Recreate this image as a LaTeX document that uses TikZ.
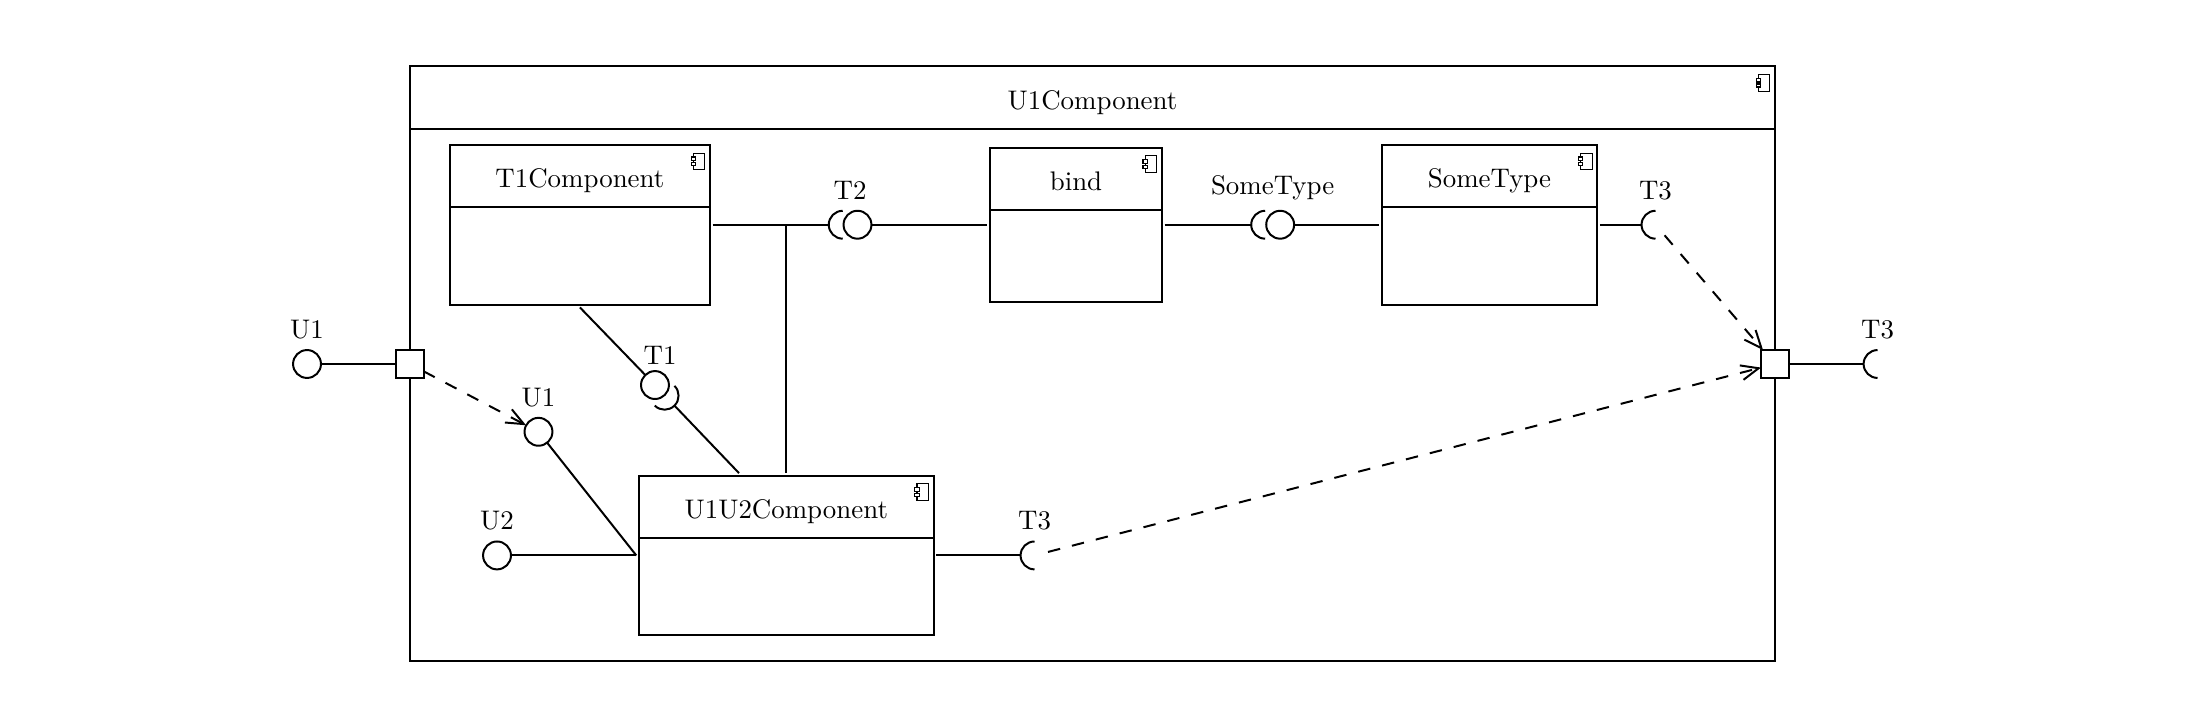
\documentclass[tikz,border=0pt]{standalone}
\usepackage{tikz}
\usetikzlibrary{arrows.meta}
\usetikzlibrary{calc}

\tikzset{
    compbox/.style={draw, rectangle, outer sep=1pt, inner sep=0pt},
    comptitle/.style={anchor=base, inner sep=0pt},
    ball/.style={draw, circle, minimum size=0.37cm, inner sep=0pt, outer sep=0pt},
    sock/.style={circle, minimum size=0.37cm, inner sep=0pt, outer sep=0pt},
    portbox/.style={draw, rectangle, fill=white, minimum size=0.37cm, inner sep=0pt, outer sep=0pt},
    iflabel/.style={inner sep=0pt},
    dep/.style={dash pattern=on 4.7pt off 4.6pt, -{Straight Barb[length=6.6pt,width=5.6pt]}},
    compicon/.pic={
        \draw[line width=0.4pt] (0,0) rectangle (-4.34pt,-6.23pt);
        \draw[line width=0.4pt, fill=white] (-5.2pt,-1.5pt) rectangle (-3.47pt,-2.8pt);
        \draw[line width=0.4pt, fill=white] (-5.2pt,-3.55pt) rectangle (-3.47pt,-4.68pt);
    }
}

% header line, title and icon of a component box
\newcommand{\comphead}[2]{
    \draw ([shift={(1pt,-24.6pt)}]#1.north west) -- ([shift={(-1pt,-24.6pt)}]#1.north east);
    \node[comptitle] (#1title) at ([yshift=-17.2pt]#1.north) {#2};
    \pic at ([shift={(-2.96pt,-4.13pt)}]#1.north east) {compicon};
}

\begin{document}
\begin{tikzpicture}[line width=0.75pt, font=\fontsize{10.15}{12}\selectfont]
    \useasboundingbox (0,0.01) rectangle (28.98,9.52);

    % component boxes
    \node[compbox, minimum width=18.104cm, minimum height=7.889cm] (outer) at (14.490,4.696) {};
    \node[compbox, minimum width=3.452cm, minimum height=2.122cm] (t1comp) at (7.691,6.539) {};
    \node[compbox, minimum width=2.281cm, minimum height=2.046cm] (bind) at (14.271,6.539) {};
    \node[compbox, minimum width=2.859cm, minimum height=2.122cm] (sometype) at (19.755,6.539) {};
    \node[compbox, minimum width=3.909cm, minimum height=2.118cm] (u1u2) at (10.429,2.153) {};
    \comphead{outer}{U1Component}
    \comphead{t1comp}{T1Component}
    \comphead{bind}{bind}
    \comphead{sometype}{SomeType}
    \comphead{u1u2}{U1U2Component}

    % ports on the outer box
    \node[portbox] (lport) at (5.434,4.692) {};
    \node[portbox] (rport) at (23.542,4.692) {};

    % provided interfaces
    \node[ball] (u1out) at (4.072,4.692) {};
    \node[ball] (u1in) at (7.142,3.793) {};
    \node[ball] (u2in) at (6.592,2.153) {};
    \node[ball] (t1ball) at (8.687,4.413) {};
    \node[ball] (t2ball) at (11.373,6.539) {};
    \node[ball] (stball) at (16.979,6.539) {};

    % required interfaces
    \node[sock] (t1sock) at (8.815,4.271) {};
    \node[sock] (t2sock) at (11.177,6.539) {};
    \node[sock] (stsock) at (16.780,6.539) {};
    \node[sock] (t3top) at (21.957,6.539) {};
    \node[sock] (t3low) at (13.721,2.153) {};
    \node[sock] (t3out) at (24.902,4.692) {};
    \foreach \s in {t2sock,stsock,t3top,t3low,t3out}
        \draw (\s.north) arc (90:270:0.185);
    \draw (t1sock.45) arc (45:-135:0.185);

    % labels
    \node[iflabel, anchor=south] (u1outlabel) at ([yshift=3.8pt]u1out.north) {U1};
    \node[iflabel, anchor=south] (u1inlabel) at ([yshift=3.8pt]u1in.north) {U1};
    \node[iflabel, anchor=south] (u2label) at ([yshift=3.8pt]u2in.north) {U2};
    \node[iflabel, anchor=south] (t1label) at ([xshift=1.9pt,yshift=2pt]t1ball.north) {T1};
    \node[iflabel, anchor=south] (t2label) at ([yshift=3.8pt]$(t2sock.north)!.5!(t2ball.north)$) {T2};
    \node[iflabel, anchor=south] (stlabel) at ([yshift=3.8pt]$(stsock.north)!.5!(stball.north)$) {SomeType};
    \node[iflabel, anchor=south] (t3toplabel) at ([yshift=3.8pt]t3top.north) {T3};
    \node[iflabel, anchor=south] (t3lowlabel) at ([yshift=3.8pt]t3low.north) {T3};
    \node[iflabel, anchor=south] (t3outlabel) at ([yshift=3.8pt]t3out.north) {T3};

    % connectors
    \coordinate (u1u2top) at (9.801,3.245);
    \draw (u1out) -- (lport);
    \draw (rport) -- (t3out.west);
    \draw (t1comp.south) -- (t1ball);
    \draw (t1sock.-45) -- (u1u2top);
    \draw (t1comp.east) -- (t2sock.west);
    \draw (u1u2.north) -- (u1u2.north |- t1comp.east);
    \draw (t2ball) -- (bind.west);
    \draw (bind.east) -- (stsock.west);
    \draw (stball) -- (sometype.west);
    \draw (sometype.east) -- (t3top.west);
    \draw (u1in) -- (u1u2.west);
    \draw (u2in) -- (u1u2.west);
    \draw (u1u2.east) -- (t3low.west);

    \draw[dep] (lport) -- (u1in);
    \draw[dep] (t3top) -- (rport);
    \draw[dep] (t3low) -- (rport);
\end{tikzpicture}
\end{document}
